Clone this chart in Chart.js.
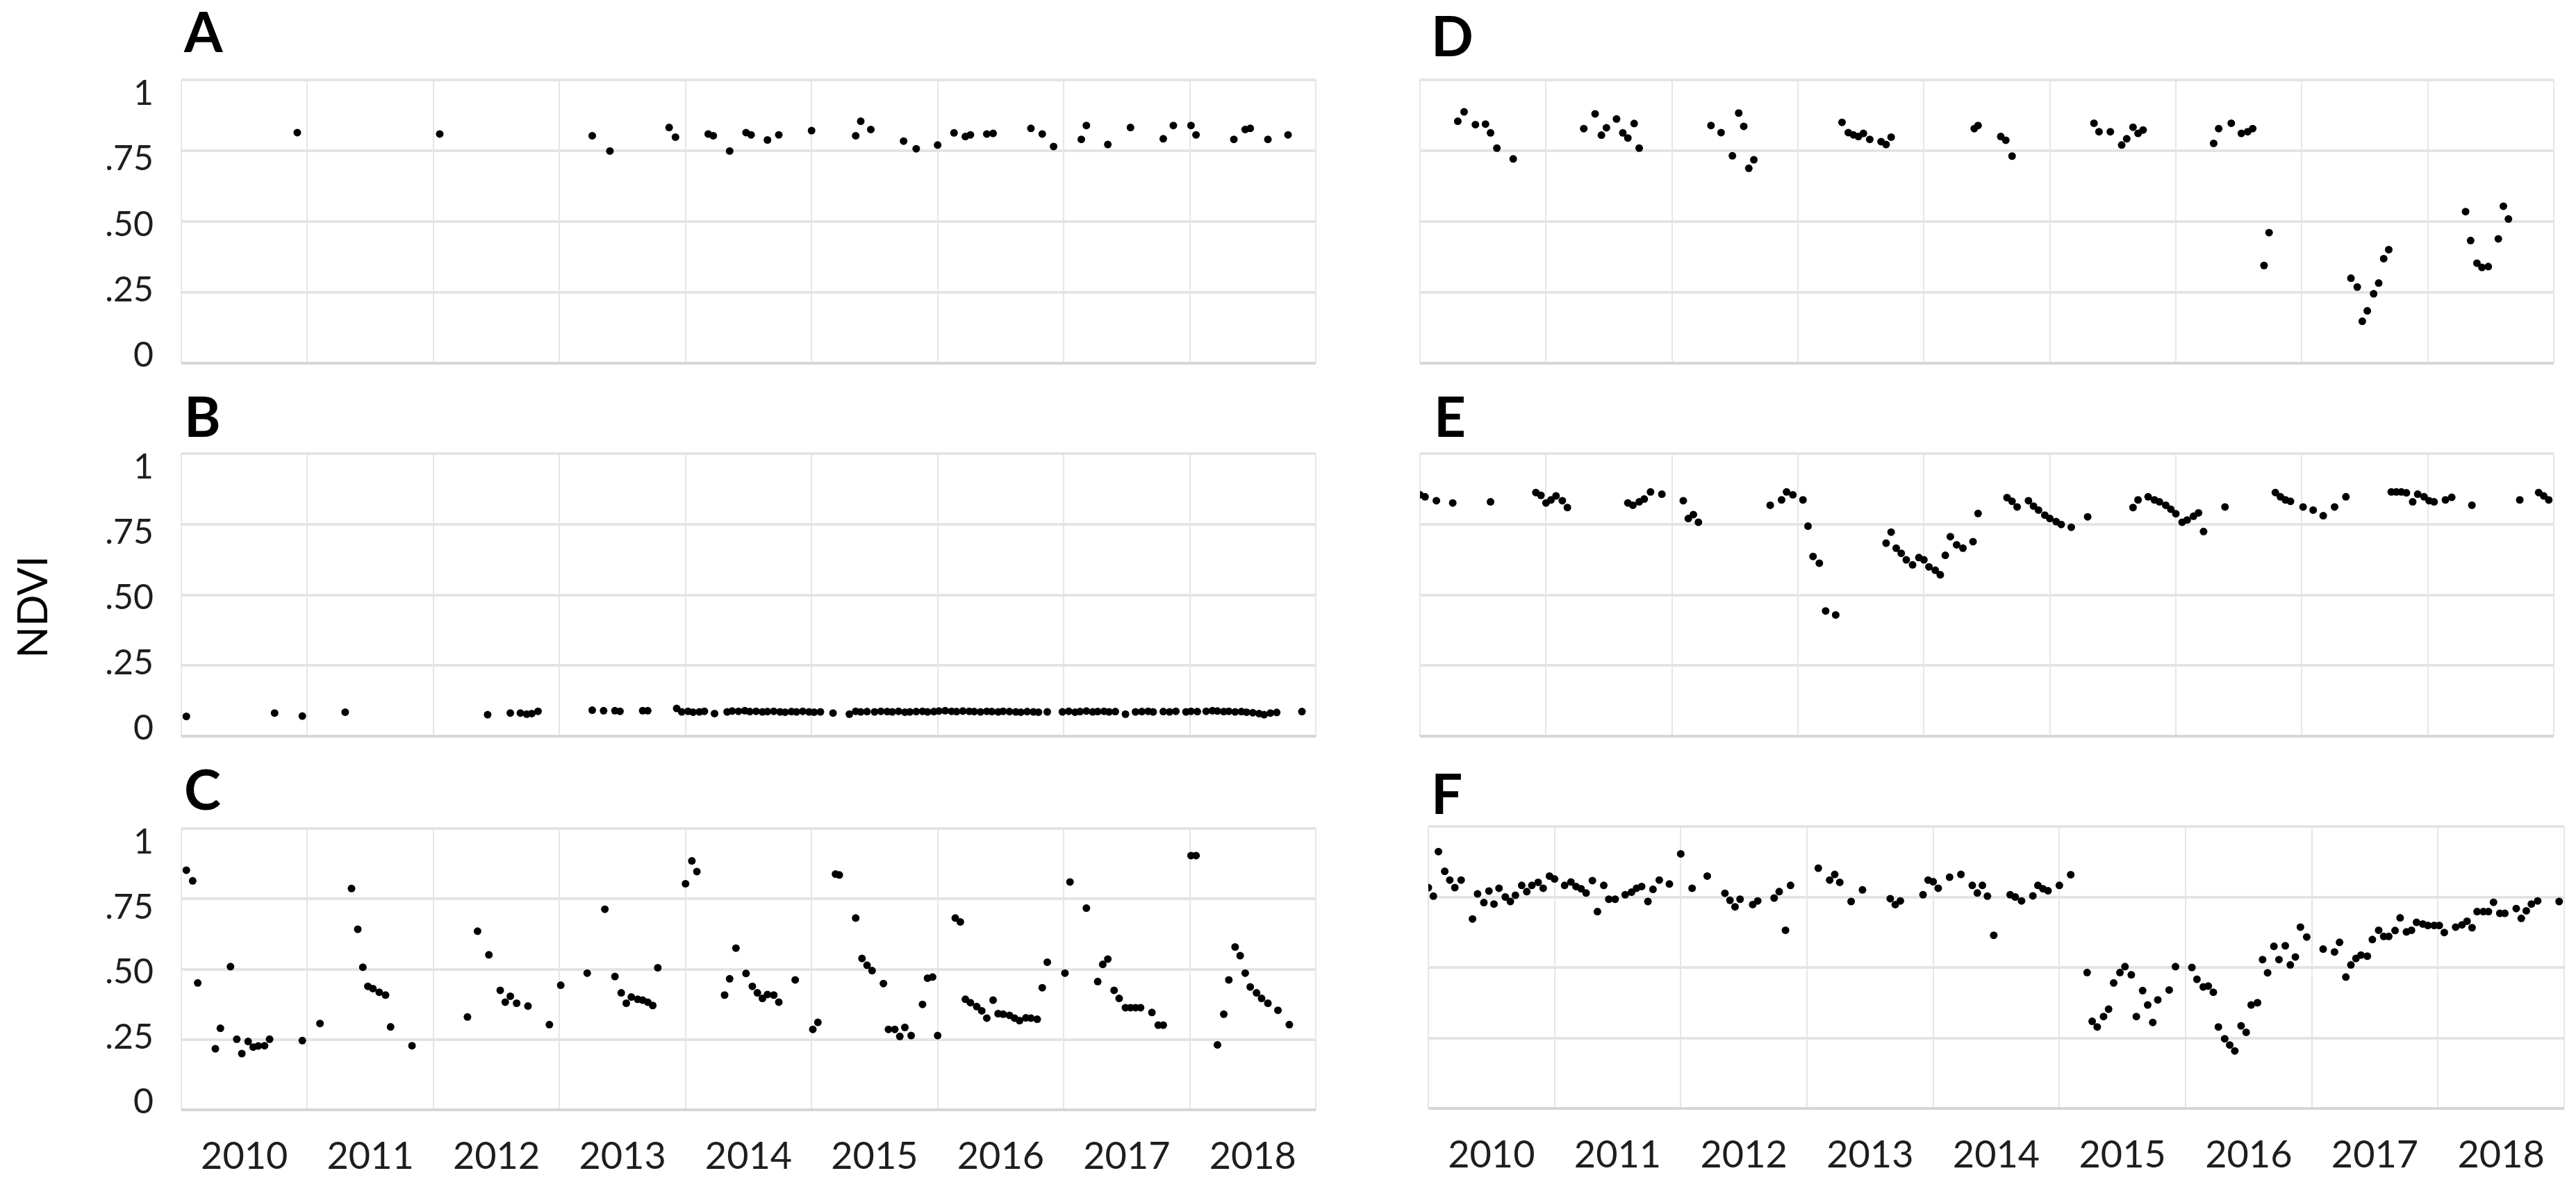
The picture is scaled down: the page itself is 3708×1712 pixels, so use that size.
<!DOCTYPE html>
<html>
<head>
<meta charset="utf-8">
<script src="https://cdn.jsdelivr.net/npm/chart.js@4.4.0/dist/chart.umd.min.js"></script>
<style>
  body { margin: 0; background: #fff; }
  #page { position: relative; width: 3708px; height: 1712px; overflow: hidden; background: #fff; }
  canvas { position: absolute; }
  .tag { position: absolute; font: bold 80px Lato, sans-serif; line-height: 80px; color: #000; }
  #ylab { position: absolute; left: -105px; top: 839px; width: 300px; height: 70px;
          font: 60px Lato, sans-serif; line-height: 70px; text-align: center; color: #000;
          transform: rotate(-90deg); }
</style>
</head>
<body>
<div id="page">
  <div class="tag" style="left:265px; top:4px;">A</div>
  <div class="tag" style="left:265px; top:558px;">B</div>
  <div class="tag" style="left:265px; top:1095px;">C</div>
  <div class="tag" style="left:2060px; top:10px;">D</div>
  <div class="tag" style="left:2064px; top:558px;">E</div>
  <div class="tag" style="left:2060px; top:1101px;">F</div>
  <div id="ylab">NDVI</div>
  <canvas id="chartA"></canvas>
  <canvas id="chartB"></canvas>
  <canvas id="chartC"></canvas>
  <canvas id="chartD"></canvas>
  <canvas id="chartE"></canvas>
  <canvas id="chartF"></canvas>
</div>
<script>
// ===== 공통 눈금 =====
const years = [2010, 2011, 2012, 2013, 2014, 2015, 2016, 2017, 2018];
const yTickValues = [0, 0.25, 0.5, 0.75, 1];
const yTickLabels = ["0", ".25", ".50", ".75", "1"];

// ===== A =====
const aDates = [2010.92, 2012.05, 2013.26, 2013.40, 2013.87, 2013.92, 2014.18, 2014.22, 2014.35, 2014.48, 2014.52, 2014.65, 2014.74,
  2015.00, 2015.35, 2015.39, 2015.47, 2015.73, 2015.83, 2016.00, 2016.13, 2016.22, 2016.26, 2016.39, 2016.44, 2016.74, 2016.83,
  2016.92, 2017.14, 2017.18, 2017.35, 2017.53, 2017.79, 2017.87, 2018.01, 2018.05, 2018.35, 2018.44, 2018.48, 2018.62, 2018.78];
const aNdvi = [0.814, 0.809, 0.803, 0.749, 0.832, 0.798, 0.809, 0.803, 0.749, 0.814, 0.806, 0.788, 0.806,
  0.821, 0.803, 0.854, 0.825, 0.784, 0.757, 0.770, 0.813, 0.800, 0.806, 0.809, 0.811, 0.829, 0.809,
  0.765, 0.790, 0.839, 0.772, 0.832, 0.792, 0.839, 0.839, 0.806, 0.790, 0.825, 0.829, 0.790, 0.806];

// ===== B =====
const bDates = [2010.04, 2010.74, 2010.96, 2011.30, 2012.43, 2012.61, 2012.69, 2012.74, 2012.78, 2012.83, 2013.26, 2013.35, 2013.44, 2013.48, 2013.66, 2013.70,
  2013.93, 2013.97, 2014.02, 2014.06, 2014.11, 2014.15, 2014.23, 2014.33, 2014.37, 2014.42, 2014.47, 2014.51, 2014.56, 2014.61, 2014.65, 2014.70,
  2014.75, 2014.79, 2014.84, 2014.88, 2014.93, 2014.98, 2015.02, 2015.07, 2015.17,
  2015.30, 2015.35, 2015.39, 2015.44, 2015.50, 2015.55, 2015.60, 2015.64, 2015.69, 2015.74, 2015.78, 2015.83, 2015.88, 2015.92, 2015.97, 2016.01,
  2016.06, 2016.11, 2016.15, 2016.20, 2016.25, 2016.29, 2016.34, 2016.39, 2016.43, 2016.48, 2016.52, 2016.57, 2016.62, 2016.66, 2016.71, 2016.76,
  2016.80, 2016.87,
  2016.99, 2017.04, 2017.09, 2017.13, 2017.18, 2017.23, 2017.27, 2017.32, 2017.36, 2017.41, 2017.49, 2017.57, 2017.62, 2017.67, 2017.71, 2017.79,
  2017.84, 2017.89, 2017.97, 2018.01, 2018.06, 2018.13, 2018.18, 2018.22, 2018.27, 2018.31, 2018.36, 2018.41, 2018.45, 2018.50, 2018.55, 2018.59,
  2018.64, 2018.69, 2018.89];
const bNdvi = [0.070, 0.082, 0.071, 0.085, 0.076, 0.082, 0.082, 0.078, 0.080, 0.088, 0.092, 0.090, 0.090, 0.088, 0.090, 0.090,
  0.098, 0.086, 0.088, 0.085, 0.086, 0.088, 0.080, 0.086, 0.089, 0.088, 0.090, 0.087, 0.088, 0.086, 0.087, 0.088,
  0.086, 0.085, 0.087, 0.086, 0.088, 0.086, 0.085, 0.086, 0.082,
  0.078, 0.088, 0.086, 0.087, 0.086, 0.088, 0.087, 0.086, 0.088, 0.085, 0.086, 0.087, 0.088, 0.086, 0.087, 0.089,
  0.090, 0.088, 0.087, 0.089, 0.088, 0.087, 0.086, 0.088, 0.087, 0.086, 0.088, 0.087, 0.086, 0.085, 0.087, 0.086,
  0.085, 0.086,
  0.086, 0.088, 0.085, 0.087, 0.089, 0.086, 0.087, 0.088, 0.086, 0.087, 0.078, 0.086, 0.087, 0.088, 0.086, 0.087,
  0.086, 0.088, 0.086, 0.088, 0.087, 0.088, 0.090, 0.089, 0.087, 0.088, 0.086, 0.087, 0.085, 0.083, 0.080, 0.076,
  0.082, 0.084, 0.087];

// ===== C =====
const cDates = [2010.04, 2010.09, 2010.13, 2010.27, 2010.31, 2010.39, 2010.44, 2010.48, 2010.53, 2010.57, 2010.61, 2010.66, 2010.70,
  2010.96, 2011.10, 2011.35, 2011.40, 2011.44, 2011.48, 2011.52, 2011.57, 2011.62, 2011.66, 2011.83,
  2012.27, 2012.35, 2012.44, 2012.53, 2012.57, 2012.61, 2012.66, 2012.75, 2012.92,
  2013.01, 2013.22, 2013.36, 2013.44, 2013.49, 2013.53, 2013.57, 2013.62, 2013.66, 2013.70, 2013.74, 2013.78,
  2014.00, 2014.05, 2014.09, 2014.31, 2014.35, 2014.40, 2014.48, 2014.53, 2014.57, 2014.61, 2014.65, 2014.70, 2014.74, 2014.87,
  2015.01, 2015.05, 2015.19, 2015.22, 2015.35, 2015.40, 2015.44, 2015.48, 2015.57, 2015.61, 2015.66, 2015.70, 2015.74, 2015.79,
  2015.88, 2015.92, 2015.96, 2016.00, 2016.14, 2016.18, 2016.22, 2016.26, 2016.31, 2016.35, 2016.39, 2016.44, 2016.48, 2016.52,
  2016.57, 2016.61, 2016.65, 2016.70, 2016.74, 2016.79, 2016.83, 2016.87,
  2017.01, 2017.05, 2017.18, 2017.27, 2017.31, 2017.35, 2017.40, 2017.44, 2017.49, 2017.53, 2017.57, 2017.61, 2017.70, 2017.75, 2017.79,
  2018.01, 2018.05, 2018.22, 2018.27, 2018.31, 2018.36, 2018.40, 2018.44, 2018.48, 2018.53, 2018.57, 2018.62, 2018.70, 2018.79];
const cNdvi = [0.852, 0.814, 0.451, 0.217, 0.290, 0.509, 0.251, 0.200, 0.243, 0.223, 0.227, 0.228, 0.251,
  0.246, 0.307, 0.787, 0.642, 0.507, 0.439, 0.431, 0.418, 0.408, 0.295, 0.228,
  0.330, 0.635, 0.551, 0.425, 0.383, 0.404, 0.379, 0.369, 0.303,
  0.443, 0.486, 0.713, 0.474, 0.416, 0.379, 0.401, 0.393, 0.390, 0.383, 0.371, 0.505,
  0.804, 0.885, 0.847, 0.408, 0.466, 0.575, 0.485, 0.439, 0.416, 0.396, 0.410, 0.408, 0.383, 0.462,
  0.286, 0.311, 0.838, 0.835, 0.682, 0.538, 0.514, 0.495, 0.449, 0.286, 0.286, 0.261, 0.293, 0.264,
  0.375, 0.468, 0.472, 0.264, 0.682, 0.668, 0.393, 0.381, 0.367, 0.352, 0.326, 0.390, 0.342, 0.340,
  0.336, 0.326, 0.317, 0.327, 0.326, 0.322, 0.434, 0.525,
  0.486, 0.810, 0.717, 0.456, 0.517, 0.536, 0.425, 0.396, 0.363, 0.363, 0.363, 0.363, 0.346, 0.301, 0.301,
  0.904, 0.904, 0.231, 0.340, 0.462, 0.579, 0.548, 0.486, 0.437, 0.416, 0.396, 0.379, 0.354, 0.303];

// ===== D =====
const dDates = [2010.30, 2010.35, 2010.44, 2010.52, 2010.56, 2010.61, 2010.74,
  2011.30, 2011.39, 2011.44, 2011.48, 2011.56, 2011.61, 2011.65, 2011.70, 2011.74,
  2012.31, 2012.39, 2012.48, 2012.53, 2012.57, 2012.61, 2012.65,
  2013.35, 2013.40, 2013.44, 2013.48, 2013.52, 2013.57, 2013.66, 2013.70, 2013.74,
  2014.40, 2014.43, 2014.61, 2014.65, 2014.70,
  2015.35, 2015.39, 2015.48, 2015.57, 2015.61, 2015.66, 2015.70, 2015.74,
  2016.30, 2016.34, 2016.44, 2016.52, 2016.57, 2016.61, 2016.70, 2016.74,
  2017.39, 2017.44, 2017.48, 2017.52, 2017.57, 2017.61, 2017.65, 2017.69,
  2018.30, 2018.34, 2018.39, 2018.43, 2018.48, 2018.56, 2018.60, 2018.64];
const dNdvi = [0.854, 0.887, 0.842, 0.844, 0.813, 0.759, 0.721,
  0.828, 0.880, 0.805, 0.831, 0.862, 0.813, 0.795, 0.846, 0.759,
  0.839, 0.814, 0.732, 0.883, 0.836, 0.688, 0.718,
  0.850, 0.814, 0.806, 0.800, 0.811, 0.790, 0.782, 0.772, 0.798,
  0.828, 0.839, 0.800, 0.787, 0.731,
  0.847, 0.817, 0.817, 0.770, 0.792, 0.833, 0.811, 0.823,
  0.776, 0.828, 0.847, 0.811, 0.817, 0.828, 0.345, 0.461,
  0.300, 0.269, 0.148, 0.185, 0.245, 0.283, 0.369, 0.401,
  0.535, 0.433, 0.353, 0.338, 0.341, 0.439, 0.554, 0.509];

// ===== E =====
const eDates = [2010.00, 2010.04, 2010.13, 2010.26, 2010.56, 2010.92, 2010.96, 2011.00, 2011.04, 2011.08, 2011.13, 2011.17,
  2011.65, 2011.69, 2011.74, 2011.78, 2011.83, 2011.92, 2012.09, 2012.13, 2012.17, 2012.21,
  2012.78, 2012.87, 2012.91, 2012.96, 2013.04, 2013.08, 2013.12, 2013.17, 2013.22, 2013.30,
  2013.70, 2013.74, 2013.78, 2013.82, 2013.86, 2013.91, 2013.96, 2014.00, 2014.04, 2014.09, 2014.13, 2014.17, 2014.21,
  2014.26, 2014.31, 2014.39, 2014.43,
  2014.66, 2014.70, 2014.74, 2014.83, 2014.87, 2014.91, 2014.96, 2015.00, 2015.05, 2015.09, 2015.17, 2015.30,
  2015.66, 2015.70, 2015.78, 2015.83, 2015.87, 2015.92, 2015.96, 2016.00, 2016.05, 2016.09, 2016.14, 2016.18, 2016.22, 2016.39,
  2016.79, 2016.83, 2016.87, 2016.91, 2017.01, 2017.09, 2017.17, 2017.26, 2017.35,
  2017.71, 2017.75, 2017.79, 2017.83, 2017.88, 2017.92, 2017.97, 2018.01, 2018.05, 2018.14, 2018.19, 2018.35,
  2018.73, 2018.88, 2018.92, 2018.96];
const eNdvi = [0.854, 0.847, 0.833, 0.825, 0.829, 0.862, 0.852, 0.825, 0.836, 0.850, 0.833, 0.809,
  0.825, 0.817, 0.829, 0.839, 0.864, 0.856, 0.833, 0.770, 0.784, 0.757,
  0.817, 0.836, 0.864, 0.854, 0.836, 0.743, 0.636, 0.612, 0.443, 0.429,
  0.683, 0.722, 0.665, 0.647, 0.624, 0.606, 0.632, 0.624, 0.599, 0.587, 0.571, 0.640, 0.706,
  0.677, 0.665, 0.688, 0.788,
  0.844, 0.831, 0.811, 0.833, 0.814, 0.800, 0.782, 0.770, 0.759, 0.749, 0.739, 0.776,
  0.809, 0.836, 0.847, 0.836, 0.829, 0.817, 0.803, 0.787, 0.757, 0.765, 0.778, 0.790, 0.724, 0.811,
  0.862, 0.847, 0.836, 0.831, 0.811, 0.800, 0.780, 0.811, 0.847,
  0.864, 0.864, 0.864, 0.861, 0.829, 0.856, 0.847, 0.833, 0.829, 0.836, 0.845, 0.817,
  0.836, 0.862, 0.850, 0.836];

// ===== F =====
const fDates = [2010.00, 2010.04, 2010.08, 2010.13, 2010.17, 2010.21, 2010.26, 2010.35, 2010.39, 2010.44, 2010.48, 2010.52,
  2010.56, 2010.61, 2010.65, 2010.69, 2010.74, 2010.78, 2010.82, 2010.87, 2010.91, 2010.96, 2011.00, 2011.08,
  2011.13, 2011.17, 2011.21, 2011.25, 2011.30, 2011.34, 2011.39, 2011.43, 2011.48, 2011.56, 2011.61, 2011.65,
  2011.69, 2011.74, 2011.78, 2011.83, 2011.91, 2012.00, 2012.09, 2012.21, 2012.35, 2012.39, 2012.43, 2012.47,
  2012.57, 2012.61, 2012.74, 2012.78, 2012.83, 2012.87, 2013.09, 2013.18, 2013.22, 2013.26, 2013.35, 2013.44,
  2013.66, 2013.70, 2013.74, 2013.92, 2013.96, 2014.00, 2014.04, 2014.13, 2014.22, 2014.31, 2014.35, 2014.39,
  2014.43, 2014.48, 2014.61, 2014.65, 2014.70, 2014.79, 2014.83, 2014.87, 2014.91, 2015.00, 2015.09, 2015.22,
  2015.26, 2015.30, 2015.35, 2015.39, 2015.43, 2015.48, 2015.52, 2015.57, 2015.61, 2015.66, 2015.70, 2015.74,
  2015.78, 2015.87, 2015.92, 2016.05, 2016.09, 2016.14, 2016.18, 2016.22, 2016.26, 2016.31, 2016.35, 2016.39,
  2016.44, 2016.48, 2016.52, 2016.57, 2016.61, 2016.65, 2016.70, 2016.74, 2016.79, 2016.83, 2016.87, 2016.91,
  2016.96, 2017.09, 2017.18, 2017.22, 2017.27, 2017.31, 2017.35, 2017.39, 2017.44, 2017.48, 2017.53, 2017.57,
  2017.61, 2017.66, 2017.70, 2017.75, 2017.79, 2017.83, 2017.88, 2017.92, 2017.97, 2018.01, 2018.05, 2018.14,
  2018.19, 2018.23, 2018.27, 2018.31, 2018.36, 2018.40, 2018.44, 2018.49, 2018.53, 2018.62, 2018.66, 2018.70,
  2018.74, 2018.79, 2018.96];
const fNdvi = [0.783, 0.753, 0.911, 0.841, 0.810, 0.783, 0.810, 0.672, 0.761, 0.730, 0.771, 0.725,
  0.781, 0.750, 0.734, 0.756, 0.791, 0.769, 0.791, 0.802, 0.781, 0.824, 0.814, 0.791,
  0.803, 0.787, 0.779, 0.764, 0.808, 0.698, 0.791, 0.742, 0.742, 0.758, 0.767, 0.781,
  0.787, 0.734, 0.777, 0.810, 0.796, 0.903, 0.781, 0.824, 0.763, 0.738, 0.715, 0.742,
  0.723, 0.736, 0.746, 0.769, 0.632, 0.791, 0.852, 0.810, 0.830, 0.802, 0.734, 0.775,
  0.744, 0.723, 0.736, 0.758, 0.810, 0.804, 0.781, 0.820, 0.830, 0.791, 0.764, 0.791,
  0.753, 0.614, 0.758, 0.750, 0.736, 0.754, 0.791, 0.779, 0.772, 0.791, 0.829, 0.482,
  0.309, 0.289, 0.326, 0.352, 0.445, 0.482, 0.503, 0.474, 0.326, 0.418, 0.367, 0.305,
  0.385, 0.420, 0.503, 0.500, 0.458, 0.431, 0.434, 0.412, 0.289, 0.247, 0.225, 0.204,
  0.293, 0.270, 0.367, 0.375, 0.528, 0.481, 0.575, 0.528, 0.577, 0.509, 0.537, 0.643,
  0.608, 0.565, 0.555, 0.589, 0.466, 0.509, 0.532, 0.544, 0.540, 0.599, 0.632, 0.610,
  0.610, 0.631, 0.676, 0.626, 0.632, 0.660, 0.654, 0.649, 0.649, 0.649, 0.624, 0.643,
  0.651, 0.664, 0.641, 0.698, 0.698, 0.698, 0.731, 0.692, 0.692, 0.709, 0.674, 0.701,
  0.725, 0.736, 0.734];

Chart.defaults.font.family = "Lato, sans-serif";
Chart.defaults.color = "#1e1e1e";

/* ===== 패널 하나 그리기 ===== */
function makePanel(id, dates, ndvi, box) {
  const canvas = document.getElementById(id);
  canvas.width = box.width;
  canvas.height = box.height;
  canvas.style.left = box.left + "px";
  canvas.style.top = box.top + "px";

  const points = [];
  for (let i = 0; i < Math.min(dates.length, ndvi.length); i++) {
    points.push({ x: dates[i], y: ndvi[i] });
  }

  // 라벨 때문에 생기는 여백 제거
  const noPad = s => { s.paddingTop = 0; s.paddingBottom = 0; s.paddingLeft = 0; s.paddingRight = 0; };

  const scales = {
    x: {
      type: "linear", axis: "x", position: "bottom",
      min: years[0], max: years[years.length - 1] + 1,
      ticks: { display: false, stepSize: 1 },
      grid: { color: "#e6e6e6", lineWidth: 2, drawTicks: false },
      border: { display: false },
      afterFit: s => { s.height = 0; noPad(s); }
    },
    y: {
      type: "linear", axis: "y", position: "left",
      min: 0, max: 1,
      afterBuildTicks: s => { s.ticks = yTickValues.map(v => ({ value: v })); },
      ticks: { display: false },
      grid: {
        color: c => (c.tick && c.tick.value === 0 ? "#d6d6d6" : "#e4e4e4"),
        lineWidth: 4, drawTicks: false
      },
      border: { display: false },
      afterFit: s => { s.width = 0; noPad(s); }
    }
  };

  // 왼쪽 패널만 y 눈금 라벨
  if (box.yLabels) {
    scales.yl = {
      type: "linear", axis: "y", position: "left",
      min: -0.029, max: 1.053,
      afterBuildTicks: s => { s.ticks = yTickValues.map(v => ({ value: v })); },
      ticks: {
        font: { size: 50 }, padding: 40,
        callback: (v) => yTickLabels[yTickValues.indexOf(v)] ?? ""
      },
      grid: { display: false, drawTicks: false },
      border: { display: false },
      afterFit: s => { s.width = box.yWidth; noPad(s); }
    };
  }

  // 아래 패널만 연도 라벨
  if (box.xLabels) {
    scales.xl = {
      type: "linear", axis: "x", position: "bottom",
      min: years[0], max: years[years.length - 1] + 1,
      afterBuildTicks: s => { s.ticks = years.map(y => ({ value: y + 0.5 })); },
      ticks: {
        font: { size: 54 }, padding: 35, maxRotation: 0, autoSkip: false,
        callback: (v) => String(Math.floor(v))
      },
      grid: { display: false, drawTicks: false },
      border: { display: false },
      afterFit: s => { s.height = box.xHeight; noPad(s); }
    };
  }

  return new Chart(canvas, {
    type: "scatter",
    data: {
      datasets: [{
        data: points,
        xAxisID: "x",
        yAxisID: "y",
        pointRadius: 5.5,
        pointHoverRadius: 5.5,
        backgroundColor: "#000",
        borderWidth: 0
      }]
    },
    options: {
      responsive: false,
      animation: false,
      devicePixelRatio: 1,
      layout: { padding: box.padding },
      plugins: { legend: { display: false }, tooltip: { enabled: false } },
      scales
    }
  });
}

makePanel("chartA", aDates, aNdvi, { left: 0, top: 100, width: 1910, height: 438, yLabels: true, yWidth: 261,
  padding: { left: 0, right: 16, top: 15, bottom: 15 } });
makePanel("chartB", bDates, bNdvi, { left: 0, top: 638, width: 1910, height: 437, yLabels: true, yWidth: 261,
  padding: { left: 0, right: 16, top: 15, bottom: 15 } });
makePanel("chartC", cDates, cNdvi, { left: 0, top: 1178, width: 1910, height: 530, yLabels: true, yWidth: 261,
  xLabels: true, xHeight: 110, padding: { left: 0, right: 16, top: 15, bottom: 0 } });
makePanel("chartD", dDates, dNdvi, { left: 2000, top: 100, width: 1708, height: 438,
  padding: { left: 44, right: 32, top: 15, bottom: 15 } });
makePanel("chartE", eDates, eNdvi, { left: 2000, top: 638, width: 1708, height: 437,
  padding: { left: 44, right: 32, top: 15, bottom: 15 } });
makePanel("chartF", fDates, fNdvi, { left: 2000, top: 1175, width: 1708, height: 531,
  xLabels: true, xHeight: 110, padding: { left: 56, right: 17, top: 15, bottom: 0 } });
</script>
</body>
</html>
